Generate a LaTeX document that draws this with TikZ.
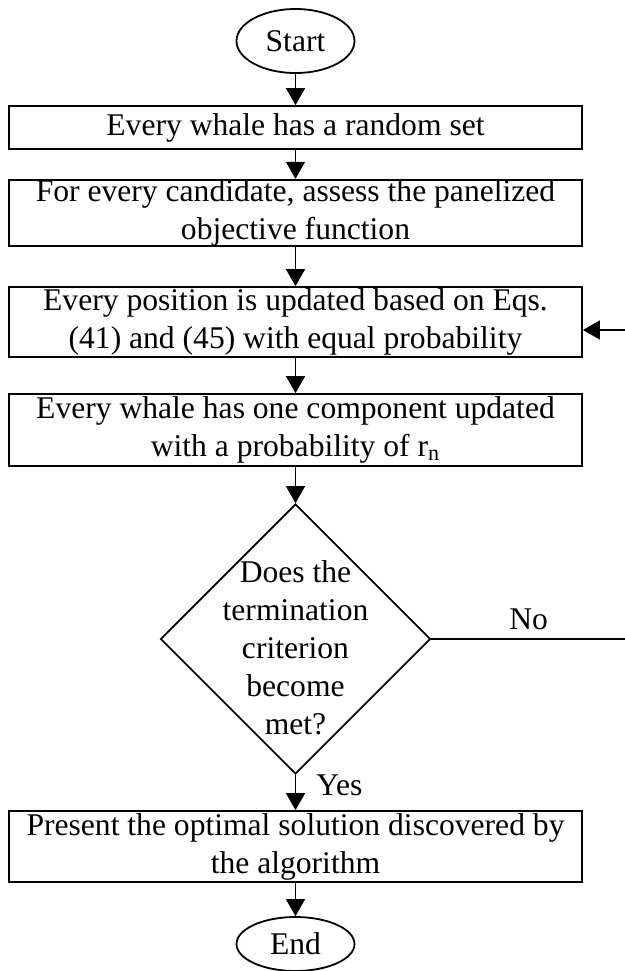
\documentclass[tikz,border=0pt]{standalone}
\usepackage{fontspec}
\setmainfont{Liberation Serif}
\usetikzlibrary{shapes.geometric,arrows.meta}
\tikzset{
  flowtext/.style={font=\fontsize{15.8}{19}\selectfont},
  stepbox/.style={draw,line width=0.9pt,flowtext,minimum width=286.5pt,inner xsep=3pt,inner ysep=0pt,align=center},
  terminal/.style={draw,ellipse,line width=0.9pt,flowtext,minimum width=59pt,inner sep=0pt},
  decision/.style={draw,diamond,line width=0.9pt,minimum width=135pt,minimum height=135pt,inner sep=0pt},
  flow/.style={line width=0.9pt,-{Triangle[length=8.5pt,width=9.5pt]}},
  edgelabel/.style={flowtext,inner sep=0pt}
}
\begin{document}
\begin{tikzpicture}[x=0.5pt,y=-0.5pt]
\useasboundingbox (0,0) rectangle (625,971);
\node[terminal,minimum height=32pt] (start) at (295.5,41) {Start};
\node[stepbox,minimum height=21.5pt] (init) at (295.5,127.5) {Every whale has a random set};
\node[stepbox,minimum height=33pt] (assess) at (295.5,213) {For every candidate, assess the panelized\\objective function};
\node[stepbox,minimum height=35pt] (update) at (295.5,322) {Every position is updated based on Eqs.\\(41) and (45) with equal probability};
\node[stepbox,minimum height=36pt] (mutate) at (295.5,430) {Every whale has one component updated\\with a probability of r\textsubscript{n}};
\node[decision] (check) at (295.5,639) {};
\node[flowtext,align=center,inner sep=0pt] (checktext) at (295.5,648) {Does the\\termination\\criterion\\become\\met?};
\node[stepbox,minimum height=35.5pt] (result) at (295.5,846.5) {Present the optimal solution discovered by\\the algorithm};
\node[terminal,minimum height=27pt] (stop) at (295.5,944) {End};
\coordinate (loopA) at (626,639);
\coordinate (loopB) at (626,330);
\draw[flow] (start) -- (init);
\draw[flow] (init) -- (assess);
\draw[flow] (assess) -- (update);
\draw[flow] (update) -- (mutate);
\draw[flow] (mutate) -- (check);
\draw[flow] (check) -- node[edgelabel,right=10pt,pos=0.3] (yes) {Yes} (result);
\draw[flow] (result) -- (stop);
\draw[line width=0.9pt] (check.east) -- node[edgelabel,above=4pt] (no) {No} (loopA) -- (loopB);
\draw[flow] (loopB) -- (update.east |- loopB);
\end{tikzpicture}
\end{document}
